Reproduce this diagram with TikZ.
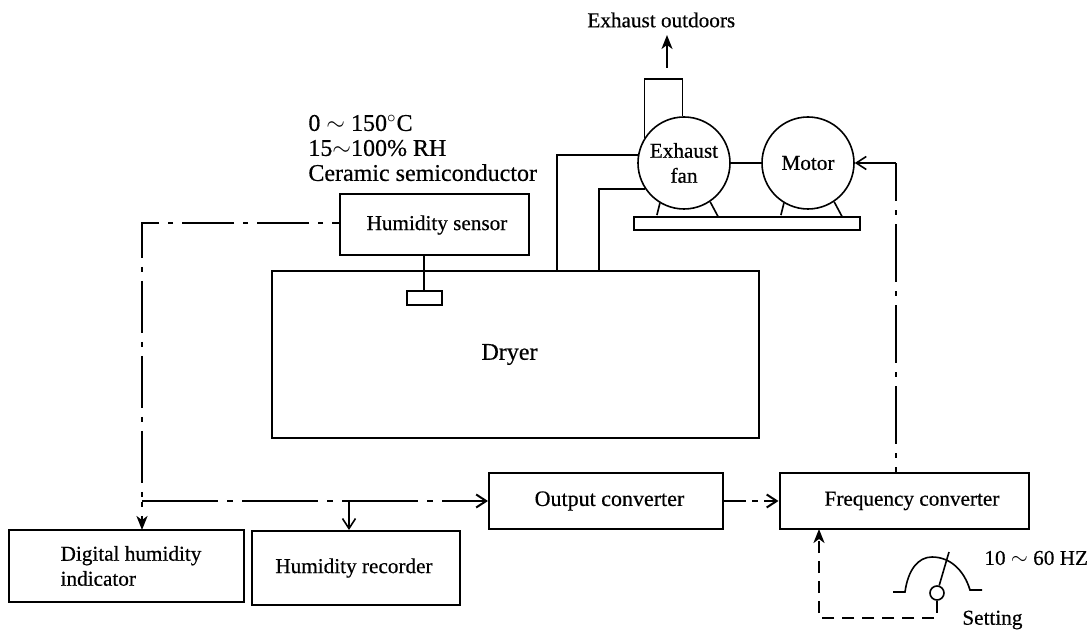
\documentclass[tikz,border=0pt]{standalone}
\usepackage{fontspec}
\setmainfont[FakeBold=0.5]{Liberation Serif}
\usetikzlibrary{arrows.meta}
\tikzset{
  blockbox/.style={draw,line width=1pt,inner sep=0pt,align=left},
  roundbox/.style={draw,circle,line width=0.8pt,inner sep=0pt,minimum size=46pt,align=center},
  pipeline/.style={line width=0.8pt},
  chainline/.style={line width=1pt,dash pattern=on 26pt off 4.5pt on 2.5pt off 4.5pt,dash phase=22pt},
  chainlong/.style={line width=1pt,dash pattern=on 38pt off 4.5pt on 3pt off 4.5pt},
  dashline/.style={line width=1pt,dash pattern=on 6pt off 4pt},
  bar/.style={-{Straight Barb[length=5pt,width=6.5pt]}},
  solidtip/.style={-{Stealth[length=7pt,width=5.5pt,inset=2pt]}},
  caption/.style={inner sep=0pt,align=left}
}
\begin{document}
\begin{tikzpicture}[x=0.5pt,y=-0.5pt,font=\fontsize{10.6}{12.5}\selectfont]
\useasboundingbox (0,0) rectangle (1089,630);
\foreach \nam/\x/\y/\w/\h/\lab in {
  sensor/434/225/94.5/30.5/\hspace*{3pt}Humidity sensor,
  dryer/515.5/354.5/243.5/83.5/\hspace*{-6pt}{\fontsize{12}{14}\selectfont Dryer},
  digital/126/566/117.5/36/\hspace*{5pt}Digital humidity\\\hspace*{5pt}indicator,
  recorder/356/568/104/37/\hspace*{-2pt}Humidity recorder,
  output/606/501/117/28/\hspace*{3.5pt}{\fontsize{11}{13}\selectfont Output converter},
  freq/904/501/124.5/28/\hspace*{8pt}Frequency converter} {
  \node[blockbox,minimum width=\w pt,minimum height=\h pt] (\nam) at (\x,\y) {\lab};
}
\node[blockbox,minimum width=17.5pt,minimum height=7pt] (probe) at (424,298) {};
\node[roundbox] (fan) at (684,163) {Exhaust\\fan};
\node[roundbox] (motor) at (808,163) {Motor};
\node[blockbox,minimum width=113pt,minimum height=6.5pt] (base) at (747,223.5) {};
% texts
\node[caption,anchor=west] (outdoors) at (587,20) {Exhaust outdoors};
\node[caption,anchor=west,font=\fontsize{12}{12.5}\selectfont] (range) at (308,148) {0 $\sim$ 150$^\circ$C\\15$\sim$100\% RH\\Ceramic semiconductor};
\node[caption,anchor=west] (hertz) at (984,558) {10 $\sim$ 60 HZ};
\node[caption,anchor=west] (setting) at (962,620) {Setting};
% fan and motor
\draw[pipeline] (fan) -- (motor);
\foreach \m in {fan,motor} {
  \draw[pipeline] (\m.-121) -- ++(-3,12);
  \draw[pipeline] (\m.-56) -- ++(8,15);
}
\coordinate (ducttop) at (662,79);
\draw[pipeline] (fan.148) |- (ducttop) -| (fan.92);
\coordinate (ductout) at (667,68);
\coordinate (airout) at (667,35);
\draw[pipeline,solidtip] (ductout) -- (airout);
\coordinate (pipea) at (557,272);
\coordinate (pipeb) at (599,272);
\draw[pipeline] (pipea) |- (fan.170);
\draw[pipeline] (pipeb) |- (fan.214);
\draw[pipeline] (sensor.south) ++(-10,0) coordinate (sensordown) -- (sensordown |- probe.north);
% signal lines
\coordinate (split) at (142,501);
\coordinate (splitb) at (349,501);
\coordinate (sensorout) at (340,223);
\coordinate (digitin) at (142,530);
\draw[chainline] (sensorout) -| (split);
\draw[chainlong,bar] (split) -- (split -| output.west);
\draw[chainline,dash phase=30pt,solidtip] (split) -- (digitin);
\draw[pipeline,bar] (splitb) -- (splitb |- recorder.north);
\draw[line width=1pt,dash pattern=on 11pt off 3pt on 3pt off 3pt,bar] (output) -- (freq);
\coordinate (freqout) at (896,473);
\coordinate (motorturn) at (896,163);
\draw[chainline,dash pattern=on 29pt off 4.5pt on 2.5pt off 4.5pt,dash phase=26pt] (freqout) -- (motorturn);
\draw[pipeline,bar] (motorturn) -- (motor.east);
% setting dial
\node[draw,circle,line width=0.8pt,minimum size=7pt,inner sep=0pt] (knob) at (937,593) {};
\coordinate (needle) at (949,552);
\draw[pipeline] (knob) -- (needle);
\draw[pipeline] (893,592) -- (905,592) .. controls (908,570) and (918,557) .. (932,557)
  .. controls (950,557) and (964,570) .. (970,590) -- (982,590);
\coordinate (corner) at (819,618);
\coordinate (freqin) at (819,529);
\draw[dashline,solidtip] (knob.south) |- (corner) -- (freqin);
\end{tikzpicture}
\end{document}
